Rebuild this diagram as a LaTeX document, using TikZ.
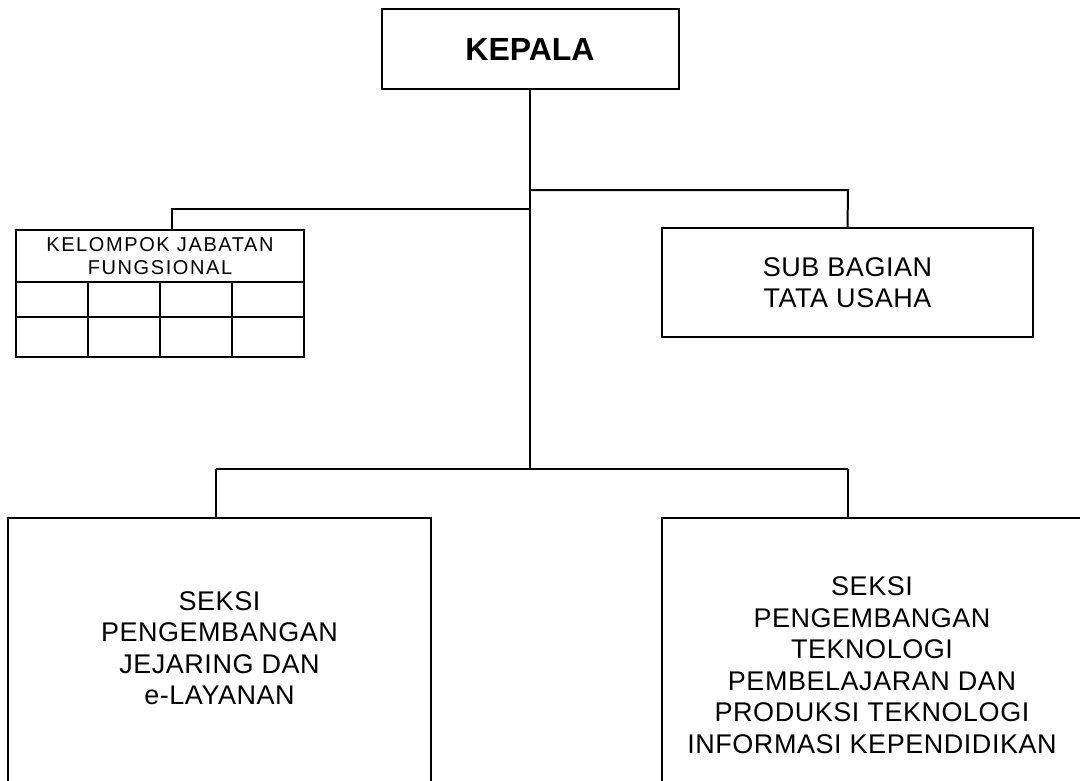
\documentclass[tikz,border=0pt]{standalone}
\usepackage{fontspec}
\setmainfont{Liberation Sans}
\newfontfamily\orgfont{Liberation Sans}[LetterSpace=2]
\newfontfamily\kjffont{Liberation Sans}[LetterSpace=8]
\usetikzlibrary{positioning}

\begin{document}
\begin{tikzpicture}[
  x=1pt, y=-1pt,
  line width=2pt,
  orgbox/.style={draw, outer sep=0pt, inner sep=0pt},
  orgtext/.style={align=center, font=\orgfont\fontsize{27}{31.5}\selectfont},
]
\useasboundingbox (0,0) rectangle (1080,780);
\clip (0,0) rectangle (1080,780);

\node[orgbox, minimum width=297pt, minimum height=80pt,
  font=\fontsize{32}{38}\selectfont\bfseries] (kepala) at (530,49) {KEPALA};

\node[orgbox, orgtext, minimum width=371pt, minimum height=109pt]
  (tu) at (847.5,282.5) {SUB BAGIAN\\TATA USAHA};

% kelompok jabatan fungsional
\node[orgbox, align=center, minimum width=288pt, minimum height=52pt,
  font=\kjffont\fontsize{20}{22.7}\selectfont] (kjf) at (160,256)
  {KELOMPOK JABATAN\\FUNGSIONAL};
\draw (kjf.south west) rectangle (kjf.south east |- 0,357);
\draw (kjf.south west |- 0,317) -- (kjf.south east |- 0,317);
\foreach \x in {88,160,232}
  \draw (\x,282) -- (\x,357);

% seksi
\node[orgbox, minimum width=423pt, minimum height=300pt, anchor=north]
  (sj) at (219.5,518) {};
\node[orgtext] (sj-txt) at (219.5,648)
  {SEKSI\\PENGEMBANGAN\\JEJARING DAN\\e-LAYANAN};
\node[orgbox, minimum width=420pt, minimum height=300pt, anchor=north]
  (sp) at (872,518) {};
\node[orgtext] (sp-txt) at (872,665)
  {SEKSI\\PENGEMBANGAN\\TEKNOLOGI\\PEMBELAJARAN DAN\\PRODUKSI TEKNOLOGI\\INFORMASI KEPENDIDIKAN};

\coordinate (jl) at (172,209);
\coordinate (jr) at (848,190);
\coordinate (bl) at (216,469);
\coordinate (br) at (848,469);

\draw (kepala.south) -- (kepala.south |- bl);
\draw (kepala.south |- jl) -- (jl) -- (jl |- kjf.north);
\draw (kepala.south |- jr) -- (jr) -- (tu.north);
\draw (bl) -- (br);
\draw (bl) -- (bl |- sj.north);
\draw (br) -- (br |- sp.north);
\end{tikzpicture}
\end{document}
